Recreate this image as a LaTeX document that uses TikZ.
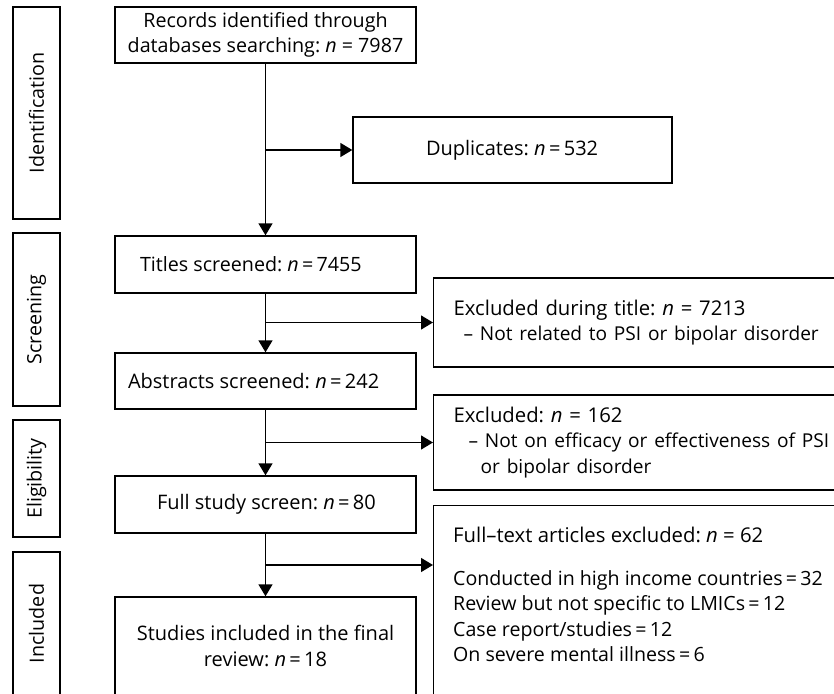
\documentclass[tikz,border=0pt]{standalone}
\usepackage{fontspec}
\setmainfont{Open Sans}
\usetikzlibrary{arrows.meta}
\frenchspacing
\newcommand{\eqs}{\,=\,}
\newcommand{\subsz}{\fontsize{19.1}{25.5}\selectfont}
\begin{document}
\begin{tikzpicture}[x=1pt,y=-1pt,
  every node/.style={font=\fontsize{20}{25.5}\selectfont, text=black},
  smalltext/.style={font=\fontsize{19.7}{25.5}\selectfont},
  headtext/.style={font=\fontsize{20.3}{25.5}\selectfont},
  box/.style={draw, line width=1.35pt, inner sep=0pt},
  sidebox/.style={box, rotate=90},
  flow/.style={line width=1.35pt, -{Triangle[width=14pt,length=12pt]}}]
\useasboundingbox (0,0) rectangle (834,693);
\clip (0,0) rectangle (834,693);
% stage boxes
\node[sidebox, smalltext, minimum width=212, minimum height=47] (sid) at (36.5,113) {Identification};
\node[sidebox, smalltext, minimum width=173, minimum height=47] (sscr) at (36.5,319.5) {Screening};
\node[sidebox, smalltext, minimum width=117, minimum height=47] (selig) at (36.5,478.5) {Eligibility};
\node[sidebox, smalltext, minimum width=143, minimum height=47] (sinc) at (36.5,623.5) {Included};
% main column
\node[box, smalltext, minimum width=301, minimum height=56, align=center] (rec) at (265.5,35) {Records identified through\\databases searching: \textit{n} = 7987};
\node[box, smalltext, minimum width=301, minimum height=57, inner xsep=25] (tit) at (265.5,264.5) {\makebox[251pt][l]{Titles screened: \textit{n}\eqs 7455}};
\node[box, minimum width=301, minimum height=56, inner xsep=13] (abs) at (265.5,381) {\makebox[275pt][l]{Abstracts screened: \textit{n}\eqs 242}};
\node[box, minimum width=301, minimum height=57, inner xsep=42] (fss) at (265.5,504.5) {\makebox[217pt][l]{Full study screen: \textit{n}\eqs 80}};
\node[box, minimum width=301, minimum height=98, align=center] (inc) at (265.5,646) {Studies included in the final\\review: \textit{n}\eqs 18};
% exclusion boxes
\node[box, minimum width=319, minimum height=66, inner xsep=73] (dup) at (512.5,150) {\makebox[173pt][l]{Duplicates: \textit{n}\eqs 532}};
\node[box, headtext, anchor=west, minimum height=89, inner xsep=20, text width=427, align=left] (ext) at (433,322.5) {Excluded during title: \textit{n} = 7213\\{\subsz\hspace*{10pt}– Not related to PSI or bipolar disorder}};
\node[box, headtext, anchor=west, minimum height=95, inner xsep=20, text width=427, align=left] (exa) at (433,442.5) {Excluded: \textit{n} = 162\\{\subsz\hspace*{15pt}– Not on efficacy or effectiveness of PSI}\\{\subsz\hspace*{27pt}or bipolar disorder}};
\node[box, anchor=north west, minimum width=467, minimum height=220] (ftx) at (433,505) {};
\node[headtext, anchor=north west, align=left, inner sep=0pt] (ftxt) at (453,527) {Full–text articles excluded: \textit{n} = 62\\[17pt]{\fontsize{19.6}{25.5}\selectfont Conducted in high income countries\eqs 32}\\{\fontsize{19.6}{25.5}\selectfont Review but not specific to LMICs\eqs 12}\\{\fontsize{19.6}{25.5}\selectfont Case report/studies\eqs 12}\\{\fontsize{19.6}{25.5}\selectfont On severe mental illness\eqs 6}};
% connectors
\draw[flow] (rec) -- (tit);
\draw[flow] (tit) -- (abs);
\draw[flow] (abs) -- (fss);
\draw[flow] (fss) -- (inc);
\draw[flow] (rec.south |- dup.west) -- (dup.west);
\draw[flow] (tit.south |- ext.west) -- (ext.west);
\draw[flow] (abs.south |- exa.west) -- (exa.west);
\coordinate (b3) at (265.5,565);
\draw[flow] (b3) -- (b3 -| ftx.west);
\end{tikzpicture}
\end{document}
